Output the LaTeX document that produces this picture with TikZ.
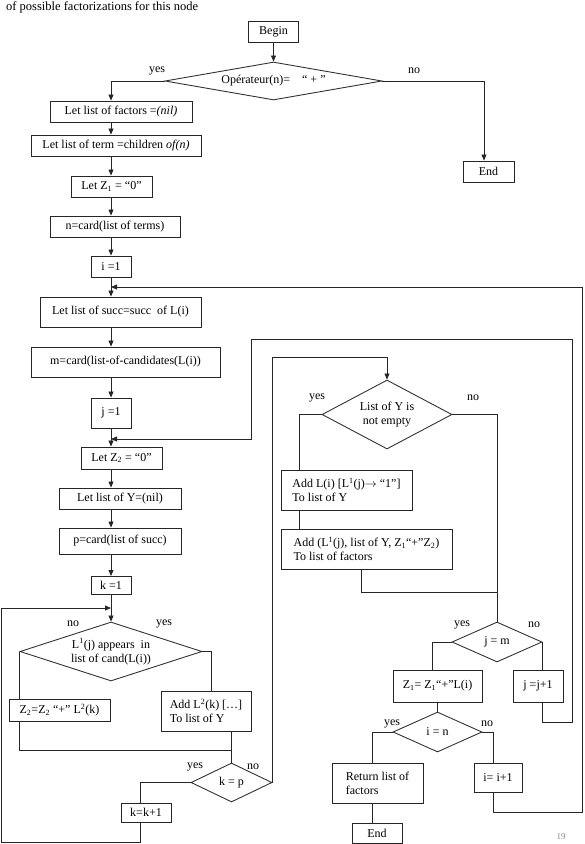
\documentclass[tikz,border=0pt]{standalone}
\usepackage{fontspec}
\setmainfont{Liberation Serif}
\usetikzlibrary{shapes.geometric,arrows.meta}
\begin{document}
\begin{tikzpicture}[x=1pt,y=-1pt,
    font=\fontsize{12}{14}\selectfont,
    box/.style={draw=black!85, line width=0.9pt, inner sep=2pt, minimum height=21pt},
    test/.style={draw=black!80, line width=0.9pt, diamond, inner sep=0pt, align=center},
    flow/.style={draw=black!85, line width=0.8pt},
    arr/.style={flow, -{Triangle[length=6pt,width=5pt]}},
    lab/.style={inner sep=0pt}]
    \useasboundingbox (0,0) rectangle (585,844);

    \node[lab, anchor=base west, font=\fontsize{12.5}{14}\selectfont] (Caption) at (6,10) {of possible factorizations for this node};
    \node[lab, text=black!45, font=\fontsize{9}{10}\selectfont] (PageNum) at (561,837) {19};

    \node[box, minimum width=50pt] (Begin) at (273.5,31.5) {Begin};
    \node[test, minimum width=217pt, minimum height=38pt, shape aspect=5.7] (OpTest) at (273.5,81) {Opérateur(n)=\quad “ + ”};
    \node[box, minimum width=51pt] (EndA) at (488.5,171.5) {End};

    \node[box, minimum width=142pt] (FactorsNil) at (121,111.5) {Let list of factors =\textit{(nil)}};
    \node[box, minimum width=170pt] (TermsList) at (116,145.5) {Let list of term =children \textit{of(n)}};
    \node[box, minimum width=81pt] (ZOneInit) at (111.5,186.5) {Let Z\textsubscript{1} = “0”};
    \node[box, minimum width=130pt] (NCard) at (115,226.5) {n=card(list of terms)};
    \node[box, minimum width=40pt] (IOne) at (111,266.5) {i =1};
    \node[box, minimum width=161pt, minimum height=30pt] (SuccList) at (120.5,312) {Let list of succ=succ\ \ of L(i)};
    \node[box, minimum width=189pt, minimum height=30pt] (MCard) at (125.5,362) {m=card(list-of-candidates(L(i))};
    \node[box, minimum width=40pt, minimum height=30pt] (JOne) at (111,413) {j =1};
    \node[box, minimum width=81pt, minimum height=22pt] (ZTwoInit) at (121.5,458) {Let Z\textsubscript{2} = “0”};
    \node[box, minimum width=122pt] (YNil) at (120,498.5) {Let list of Y=(nil)};
    \node[box, minimum width=122pt, minimum height=26pt] (PCard) at (120,541) {p=card(list of succ)};
    \node[box, minimum width=40pt, minimum height=18pt] (KOne) at (111,585.5) {k =1};

    \node[test, minimum width=182pt, minimum height=59pt, shape aspect=3.1] (AppearsTest) at (111,651.5) {L\textsuperscript{1}(j) appears\ \ in\\list of cand(L(i))};
    \node[box, minimum width=101pt, minimum height=22pt] (ZTwoAdd) at (59.5,710) {Z\textsubscript{2}=Z\textsubscript{2} “+” L\textsuperscript{2}(k)};
    \node[box, minimum width=90pt, minimum height=40pt, align=left] (YAdd) at (206,711) {Add L\textsuperscript{2}(k) [\ldots]\\To list of Y};
    \node[test, minimum width=81pt, minimum height=39pt, shape aspect=2.1] (KTest) at (231.5,782.5) {k = p};
    \node[box, minimum width=50pt, minimum height=19pt] (KInc) at (146,812.5) {k=k+1};

    \node[test, minimum width=130pt, minimum height=69pt, shape aspect=1.9] (YTest) at (387,414.5) {List of Y is\\not empty};
    \node[box, minimum width=131pt, minimum height=40pt, align=left] (AddY) at (346.5,490) {Add L(i) [L\textsuperscript{1}(j)$\rightarrow$ “1”]\\To list of Y};
    \node[box, minimum width=171pt, minimum height=40pt, align=left] (AddFactors) at (366.5,549) {Add (L\textsuperscript{1}(j), list of Y, Z\textsubscript{1}“+”Z\textsubscript{2})\\To list of factors};
    \node[test, minimum width=90pt, minimum height=40pt, shape aspect=2.25] (JTest) at (497,642) {j = m};
    \node[box, minimum width=89pt, minimum height=32pt] (ZOneAdd) at (437.5,686) {Z\textsubscript{1}= Z\textsubscript{1}“+”L(i)};
    \node[box, minimum width=50pt, minimum height=32pt] (JInc) at (538,686) {j =j+1};
    \node[test, minimum width=89pt, minimum height=40pt, shape aspect=2.2] (ITest) at (437.5,732) {i = n};
    \node[box, minimum width=91pt, minimum height=40pt, align=left] (Return) at (377.5,783) {Return list of\\factors};
    \node[box, minimum width=50pt, minimum height=20pt] (EndB) at (377,833) {End};
    \node[box, minimum width=48pt, minimum height=29pt] (IInc) at (498,777.5) {i= i+1};

    \node[lab] (OpYes) at (157,71) {yes};
    \node[lab] (OpNo) at (414,71) {no};
    \node[lab] (YYes) at (317,398) {yes};
    \node[lab] (YNo) at (473,398) {no};
    \node[lab] (AppNo) at (73,624) {no};
    \node[lab] (AppYes) at (164,624) {yes};
    \node[lab] (KYes) at (195,767) {yes};
    \node[lab] (KNo) at (253,767) {no};
    \node[lab] (JYes) at (462,625) {yes};
    \node[lab] (JNo) at (534,625) {no};
    \node[lab] (IYes) at (392,724) {yes};
    \node[lab] (INo) at (487,724) {no};

    \coordinate (KBack) at (111,608);
    \coordinate (KCorner) at (1,842);
    \coordinate (KJoin) at (231.5,750);
    \coordinate (JBack) at (111,439);
    \coordinate (JRight) at (572,722);
    \coordinate (JTop) at (251,339);
    \coordinate (IBack) at (111,287);
    \coordinate (IRight) at (582,812);
    \coordinate (FJoin) at (497,592);

    \draw[arr] (Begin.south) -- (OpTest.north);
    \draw[arr] (OpTest.west) -| (FactorsNil.north -| IOne);
    \draw[arr] (OpTest.east) -| ([xshift=-4.5pt]EndA.north);

    \draw[arr] (FactorsNil.south -| IOne) -- (TermsList.north -| IOne);
    \draw[arr] (TermsList.south -| IOne) -- (ZOneInit.north -| IOne);
    \draw[arr] (ZOneInit.south -| IOne) -- (NCard.north -| IOne);
    \draw[arr] (NCard.south -| IOne) -- (IOne.north);
    \draw[arr] (IOne.south) -- (SuccList.north -| IOne);
    \draw[arr] (SuccList.south -| IOne) -- (MCard.north -| IOne);
    \draw[arr] (MCard.south -| IOne) -- (JOne.north);
    \draw[arr] (JOne.south) -- (ZTwoInit.north -| IOne);
    \draw[arr] (ZTwoInit.south -| IOne) -- (YNil.north -| IOne);
    \draw[arr] (YNil.south -| IOne) -- (PCard.north -| IOne);
    \draw[arr] (PCard.south -| IOne) -- (KOne.north);
    \draw[arr] (KOne.south) -- (AppearsTest.north);

    \draw[flow] (AppearsTest.west) -- (AppearsTest.west |- ZTwoAdd.north);
    \draw[flow] (AppearsTest.west |- ZTwoAdd.south) |- (KJoin);
    \draw[flow] (AppearsTest.east) -| ([xshift=5pt]YAdd.north);
    \draw[flow] (KJoin |- YAdd.south) -- (KTest.north);
    \draw[flow] (KTest.west) -| ([xshift=-6pt]KInc.north);
    \draw[arr] ([xshift=-6pt]KInc.south) |- (KCorner) |- (KBack);
    \draw[arr] (KTest.east) |- ([yshift=22pt]YTest.north) -- (YTest.north);

    \draw[flow] (YTest.west) -| ([xshift=19pt]AddY.north west);
    \draw[flow] ([xshift=19pt]AddY.south west) -- ([xshift=19pt]AddFactors.north west);
    \draw[flow] ([xshift=81pt]AddFactors.south west) |- (FJoin);
    \draw[flow] (YTest.east) -| (JTest.north);
    \draw[flow] (JTest.west) -| ([xshift=-5.5pt]ZOneAdd.north);
    \draw[flow] (JTest.east) -- (JTest.east |- JInc.north);
    \draw[arr] (JTest.east |- JInc.south) |- (JRight) |- (JTop) |- (JBack);

    \draw[flow] (ZOneAdd.south) -- (ITest.north);
    \draw[flow] (ITest.west) -| ([xshift=-5pt]Return.north);
    \draw[flow] ([xshift=-5pt]Return.south) -- ([xshift=-4.5pt]EndB.north);
    \draw[flow] (ITest.east) -| ([xshift=-5pt]IInc.north);
    \draw[arr] ([xshift=-5pt]IInc.south) |- (IRight) |- (IBack);
\end{tikzpicture}
\end{document}
